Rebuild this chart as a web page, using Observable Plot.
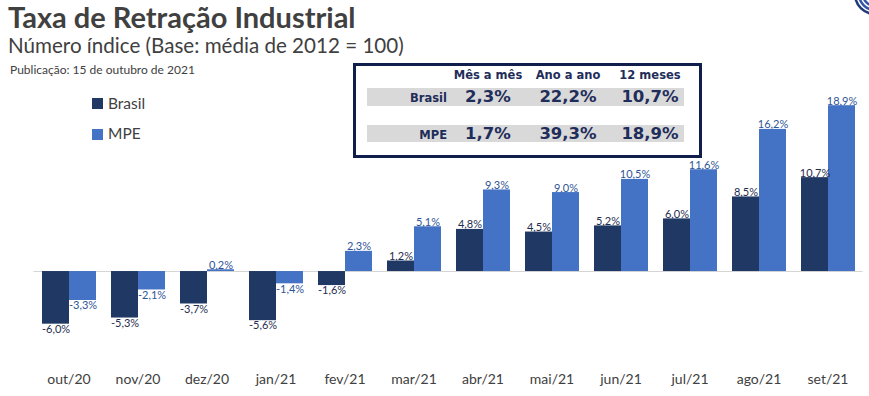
<!DOCTYPE html>
<html>
<head>
<meta charset="utf-8">
<script src="https://cdn.jsdelivr.net/npm/d3@7"></script>
<script src="https://cdn.jsdelivr.net/npm/@observablehq/plot@0.6"></script>
<style>
  html, body { margin: 0; padding: 0; background: #fff; }
  #wrap { position: relative; width: 869px; height: 396px; overflow: hidden; font-family: Lato, sans-serif; color: #404040; }
  #chart { position: absolute; left: 0; top: 0; }
  .abs { position: absolute; line-height: 1; white-space: nowrap; }
  .tbl { font-family: "DejaVu Sans", Verdana, sans-serif; font-weight: bold; color: #1F2D5A; }
</style>
</head>
<body>
<div id="wrap">
  <div id="chart"></div>
</div>
<script>
// ---- data ----
const months = ["out/20","nov/20","dez/20","jan/21","fev/21","mar/21","abr/21","mai/21","jun/21","jul/21","ago/21","set/21"];
const series = ["Brasil", "MPE"];
const brasil = [-6.0, -5.3, -3.7, -5.6, -1.6, 1.2, 4.8, 4.5, 5.2, 6.0, 8.5, 10.7];
const mpe    = [-3.3, -2.1, 0.2, -1.4, 2.3, 5.1, 9.3, 9.0, 10.5, 11.6, 16.2, 18.9];
const tableHeaders = ["Mês a mês", "Ano a ano", "12 meses"];
const tableBrasil = ["2,3%", "22,2%", "10,7%"];
const tableMPE = ["1,7%", "39,3%", "18,9%"];
const titleText = "Taxa de Retração Industrial";
const subtitleText = "Número índice (Base: média de 2012 = 100)";
const pubText = "Publicação: 15 de outubro de 2021";

const colors = {Brasil: "#203864", MPE: "#4472C4"};
const labelColors = {Brasil: "#1F2D50", MPE: "#2F5597"};

const data = months.flatMap((m, i) => [
  {month: m, series: "Brasil", value: brasil[i]},
  {month: m, series: "MPE", value: mpe[i]}
]);
const fmt = v => v.toFixed(1).replace(".", ",") + "%";

const labelMarks = series.flatMap(s => [
  Plot.text(data.filter(d => d.series === s && d.value >= 0), {
    fx: "month", x: "series", y: "value", text: d => fmt(d.value),
    lineAnchor: "bottom", dy: -1, fill: labelColors[s], fontSize: 11
  }),
  Plot.text(data.filter(d => d.series === s && d.value < 0), {
    fx: "month", x: "series", y: "value", text: d => fmt(d.value),
    lineAnchor: "top", dy: 1, fill: labelColors[s], fontSize: 11
  })
]);

const chart = Plot.plot({
  width: 869,
  height: 396,
  marginTop: 78,
  marginBottom: 46,
  marginLeft: 30,
  marginRight: 3,
  style: {fontFamily: "Lato, sans-serif", fontSize: "14px", color: "#404040", background: "transparent"},
  fx: {domain: months, paddingInner: 0.2, paddingOuter: 0.1, label: null, axis: null},
  x: {domain: series, padding: 0, axis: null},
  y: {domain: [-9, 22], axis: null},
  color: {domain: series, range: [colors.Brasil, colors.MPE]},
  marks: [
    Plot.ruleY([0], {stroke: "#d4d4d4", strokeWidth: 1, insetLeft: -7.5, insetRight: -7.5}),
    Plot.barY(data, {fx: "month", x: "series", y: "value", fill: "series"}),
    ...labelMarks,
    Plot.axisFx({anchor: "bottom", tickSize: 0, tickPadding: 24, fontSize: 14, fill: "#404040", label: null})
  ]
});
document.getElementById("chart").appendChild(chart);

// ---- overlays: title, legend, summary table ----
const wrap = document.getElementById("wrap");
function addDiv(text, css, cls) {
  const d = document.createElement("div");
  d.className = "abs" + (cls ? " " + cls : "");
  d.textContent = text;
  Object.assign(d.style, css);
  wrap.appendChild(d);
  return d;
}
addDiv(titleText, {left: "8px", top: "2px", fontSize: "29px", fontWeight: "bold"});
addDiv(subtitleText, {left: "8px", top: "35px", fontSize: "20.6px"});
addDiv(pubText, {left: "10px", top: "64px", fontSize: "12px"});

// legend
series.forEach((s, i) => {
  const sw = document.createElement("div");
  sw.className = "abs";
  Object.assign(sw.style, {left: "92px", top: (98 + i * 31) + "px", width: "11px", height: "11px", background: colors[s]});
  wrap.appendChild(sw);
  addDiv(s, {left: "108px", top: (96 + i * 30) + "px", fontSize: "15.5px"});
});

// table box
const box = document.createElement("div");
box.className = "abs";
Object.assign(box.style, {left: "353px", top: "63px", width: "343px", height: "89px", border: "3px solid #0F1E4A", background: "#fff"});
wrap.appendChild(box);
[[88, 18], [125, 17]].forEach(([t, h]) => {
  const band = document.createElement("div");
  band.className = "abs";
  Object.assign(band.style, {left: "367px", top: t + "px", width: "317px", height: h + "px", background: "#D9D9D9"});
  wrap.appendChild(band);
});
const colCenters = [488, 568, 650];
tableHeaders.forEach((h, i) => {
  addDiv(h, {left: colCenters[i] + "px", top: "70px", fontSize: "11.5px", transform: "translateX(-50%)"}, "tbl");
});
[["Brasil", tableBrasil, 89], ["MPE", tableMPE, 126]].forEach(([name, vals, top]) => {
  addDiv(name, {right: (869 - 447) + "px", top: (top + 4) + "px", fontSize: "11.5px"}, "tbl");
  vals.forEach((v, i) => {
    addDiv(v, {left: colCenters[i] + "px", top: top + "px", fontSize: "16.5px", transform: "translateX(-50%)"}, "tbl");
  });
});

// partial logo at top-right corner
const ns = "http://www.w3.org/2000/svg";
const logo = document.createElementNS(ns, "svg");
logo.setAttribute("width", "30"); logo.setAttribute("height", "20");
Object.assign(logo.style, {position: "absolute", left: "845px", top: "0px"});
[20, 16, 12].forEach((r, i) => {
  const c = document.createElementNS(ns, "circle");
  c.setAttribute("cx", "30"); c.setAttribute("cy", "-6"); c.setAttribute("r", r);
  c.setAttribute("fill", "none"); c.setAttribute("stroke", i === 0 ? "#1F3A7A" : "#2E55A6"); c.setAttribute("stroke-width", "2.5");
  logo.appendChild(c);
});
wrap.appendChild(logo);
</script>
</body>
</html>
